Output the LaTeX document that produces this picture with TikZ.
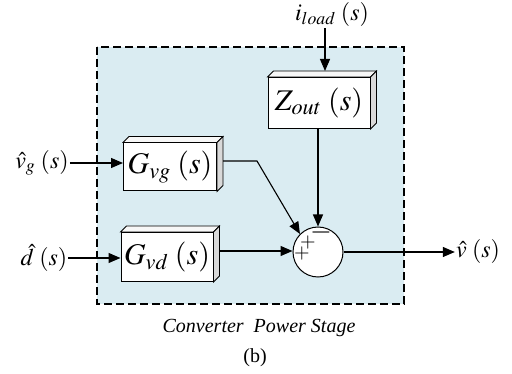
\documentclass[tikz,border=0pt]{standalone}
\usepackage{mathptmx}
\usepackage{fontspec}
\setmainfont{Liberation Serif}
\usetikzlibrary{calc,arrows.meta,positioning}
\definecolor{stagebg}{HTML}{DAECF2}
\def\blkdepth{6}
\tikzset{
  ar/.style={-{Triangle[length=12pt,width=10pt]},line width=1.1pt},
  blk/.style={draw,line width=1pt,fill=white,inner sep=0pt,font=\fontsize{30}{32}\selectfont},
  sig/.style={font=\fontsize{24}{28}\selectfont,inner sep=1pt},
  sgn/.style={font=\fontsize{20}{22}\selectfont,inner sep=0pt}
}

\begin{document}
\begin{tikzpicture}[x=1pt,y=-1pt]
\useasboundingbox (0,0) rectangle (512,374);
% power stage frame
\draw[fill=stagebg,dash pattern=on 8pt off 4pt,line width=1.1pt] (97,47) rectangle (404,304);
% blocks
\node[blk,minimum width=102pt,minimum height=51pt] (zout) at (319,103) {$Z_{out}\,\left(s\right)$};
\node[blk,minimum width=93pt,minimum height=48pt] (gvg) at (170,167) {$G_{vg}\,\left(s\right)$};
\node[blk,minimum width=92pt,minimum height=49pt] (gvd) at (167,257) {$G_{vd}\,\left(s\right)$};
\foreach \b in {zout,gvg,gvd}{
  \draw[line width=0.8pt,fill=gray!6] (\b.north west) -- ++(\blkdepth,-\blkdepth) -- ($(\b.north east)+(\blkdepth,-\blkdepth)$) -- (\b.north east) -- cycle;
  \draw[line width=0.8pt,fill=gray!30] (\b.north east) -- ++(\blkdepth,-\blkdepth) -- ($(\b.south east)+(\blkdepth,-\blkdepth)$) -- (\b.south east) -- cycle;
}
% summing junction
\node[draw,circle,fill=white,line width=1pt,minimum size=50pt] (sum) at (318,252) {};
\node[sgn] (p1) at ($(sum)+(-10,-9)$) {$+$};
\node[sgn] (p2) at ($(sum)+(-16,2)$) {$+$};
\node[sgn,font=\fontsize{28}{30}\selectfont] (m1) at ($(sum)+(3,-19)$) {$-$};
% signals
\node[sig] (iload) at (332,15) {$i_{load}\,\left(s\right)$};
\node[sig] (vg) at (42,163) {$\hat{v}_{g}\,\left(s\right)$};
\node[sig] (dh) at (44,258) {$\hat{d}\,\left(s\right)$};
\node[sig] (vout) at (478,252) {$\hat{v}\,\left(s\right)$};
\coordinate (ztop) at ($(zout.north)+(\blkdepth,-\blkdepth)$);
\coordinate (gvgout) at ($(gvg.east)+(\blkdepth,-\blkdepth)$);
\coordinate (gvdout) at ($(gvd.east)+(\blkdepth,-\blkdepth)$);
\coordinate (bend) at (257,161);
\draw[ar] (iload.south -| ztop) -- (ztop);
\draw[ar] (vg.east) -- (vg.east -| gvg.west);
\draw[ar] (dh.east) -- (dh.east -| gvd.west);
\draw[ar] (gvgout) -- (bend) -- (sum.135);
\draw[ar] (gvdout) -- (gvdout -| sum.west);
\draw[ar] (zout.south -| sum.north) -- (sum.north);
\draw[ar] (sum.east) -- (vout.west);
% caption
\node[font=\itshape\fontsize{20}{24}\selectfont] (cap) at (259,328) {Converter\ \ Power Stage};
\node[font=\fontsize{20}{24}\selectfont] (tag) at (255,358) {(b)};
\end{tikzpicture}
\end{document}
